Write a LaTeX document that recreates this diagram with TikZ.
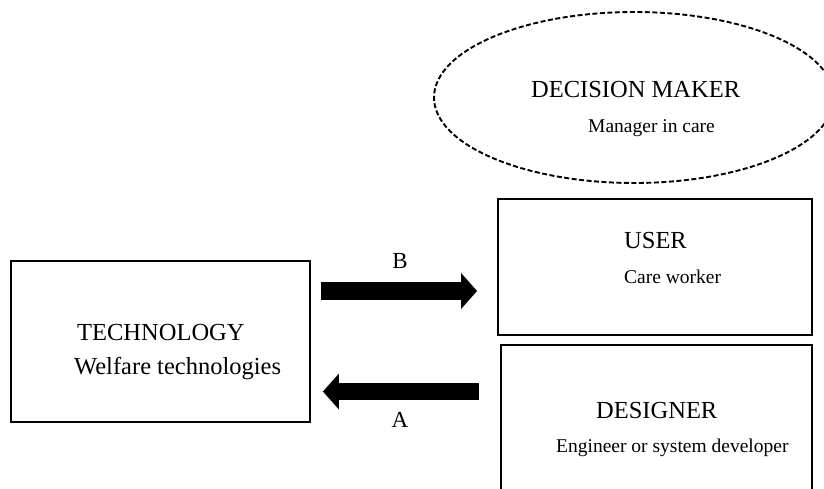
\documentclass[tikz,border=0pt]{standalone}
\usepackage{fontspec}
\setmainfont{Liberation Serif}
\usetikzlibrary{arrows.meta,shapes.geometric}
\begin{document}
\begin{tikzpicture}[x=1pt,y=-1pt,
  box/.style={draw,line width=1.8pt,inner sep=0pt},
  head/.style={inner sep=0pt,anchor=base west,font=\fontsize{24.5}{28}\selectfont},
  sub/.style={inner sep=0pt,anchor=base west,font=\fontsize{19.5}{23}\selectfont},
  lbl/.style={inner sep=0pt,anchor=base,font=\fontsize{23}{27}\selectfont},
  fat/.style={line width=17.5pt,-{Triangle[length=16pt,width=35pt]}}]
\clip (0,0) rectangle (824,488);
% boxes
\node[box,minimum width=299pt,minimum height=161pt] (tech) at (160.5,341.5) {};
\node[box,minimum width=314pt,minimum height=136pt] (user) at (655,267) {};
\node[box,minimum width=311pt,minimum height=160pt] (designer) at (656.5,425) {};
\node[draw,dash pattern=on 5pt off 2.5pt,line width=1.9pt,ellipse,minimum width=400pt,minimum height=171pt,inner sep=0pt] (dm) at (634,97.5) {};
% texts
\node[head] (t1) at (77,340) {TECHNOLOGY};
\node[head] (t2) at (74,374) {Welfare technologies};
\node[head] (u1) at (624,248) {USER};
\node[sub] (u2) at (624,283) {Care worker};
\node[head] (d1) at (596,418) {DESIGNER};
\node[sub] (d2) at (556,452) {Engineer or system developer};
\node[head] (m1) at (531,97) {DECISION MAKER};
\node[sub] (m2) at (588,132) {Manager in care};
% arrows
\coordinate (b1) at ([xshift=10pt]tech.east |- 0,291);
\coordinate (b2) at ([xshift=-20pt]user.west |- 0,291);
\coordinate (a1) at ([xshift=-21pt]designer.west |- 0,391.5);
\coordinate (a2) at ([xshift=12pt]tech.east |- 0,391.5);
\draw[fat] (b1) -- (b2);
\draw[fat] (a1) -- (a2);
\node[lbl] (lb) at (400,268) {B};
\node[lbl] (la) at (400,427) {A};
\end{tikzpicture}
\end{document}
